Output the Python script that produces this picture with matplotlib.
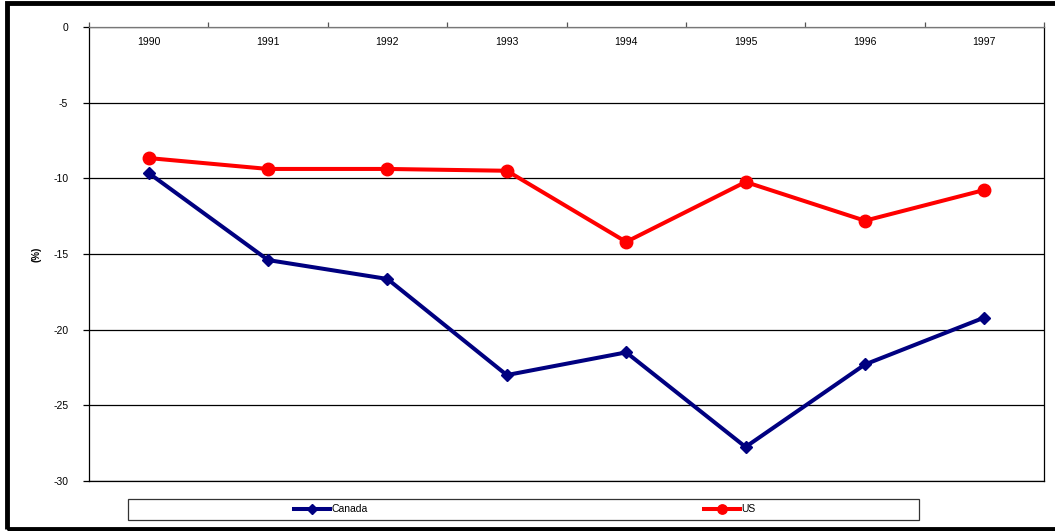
import matplotlib
matplotlib.use("Agg")
import matplotlib.pyplot as plt
from matplotlib.patches import Rectangle

plt.rcParams['font.family'] = ['Liberation Sans', 'DejaVu Sans']
plt.rcParams['axes.unicode_minus'] = False

years = ["1990", "1991", "1992", "1993", "1994", "1995", "1996", "1997"]
canada = [-9.65, -15.4, -16.65, -23.0, -21.5, -27.75, -22.3, -19.2]
us = [-8.66, -9.38, -9.38, -9.5, -14.2, -10.24, -12.8, -10.77]
y_ticks = [0, -5, -10, -15, -20, -25, -30]

W, H = 1055, 531
fig = plt.figure(figsize=(W / 100, H / 100), dpi=100)
ax = fig.add_axes([89 / W, 1 - 481 / H, (1044 - 89) / W, (481 - 27) / H])

x = list(range(len(years)))
navy = "#000080"
red = "#FF0000"

ax.plot(x, canada, color=navy, lw=2.9, marker="D", ms=6.5, mfc=navy, mec=navy,
        label="Canada", zorder=3, clip_on=False)
ax.plot(x, us, color=red, lw=2.9, marker="o", ms=9, mfc=red, mec=red,
        label="US", zorder=4, clip_on=False)

ax.set_xlim(-0.5, len(years) - 0.5)
ax.set_ylim(-30, 0)

# horizontal gridlines
ax.set_yticks(y_ticks)
ax.set_yticklabels([f"{v}" for v in y_ticks])
ax.yaxis.grid(True, color="black", lw=0.9)
ax.tick_params(axis="y", direction="out", length=4, width=0.9, pad=11,
               labelsize=7.5, colors="black")

# category axis on top, labels inside the plot
ax.xaxis.tick_top()
ax.set_xticks(x)
ax.set_xticklabels(years)
ax.set_xticks([i + 0.5 for i in range(-1, len(years))], minor=True)
ax.tick_params(axis="x", which="major", length=0, pad=-14.5, labelsize=7.5)
ax.tick_params(axis="x", which="minor", direction="out", length=3.5, width=0.9,
               color="#555555")

for s in ax.spines.values():
    s.set_color("black")
    s.set_linewidth(0.9)
ax.spines["top"].set_color("#777777")

ax.set_ylabel("(%)", fontsize=7, fontweight="bold", labelpad=8)

# legend box beneath the plot, one centred entry per half
fig.patches.append(Rectangle((128 / W, 1 - 520 / H), (919 - 128) / W, 21 / H,
                             transform=fig.transFigure, fill=False,
                             edgecolor="#333333", lw=0.9))
handles, labels = ax.get_legend_handles_labels()
centers = [331 / W, 730 / W]
for h, lab, cx in zip(handles, labels, centers):
    fig.legend([h], [lab], loc="center", bbox_to_anchor=(cx, 1 - 509.5 / H),
               frameon=False, fontsize=7.5, handlelength=3.4, handletextpad=0.2,
               markerscale=0.75)

# outer frame
fig.patches.append(Rectangle((7 / W, 2.5 / H), 1.05, 1 - 5 / H,
                             transform=fig.transFigure, fill=False,
                             edgecolor="black", lw=3.5, clip_on=False))

fig.savefig("out.png", dpi=100)
